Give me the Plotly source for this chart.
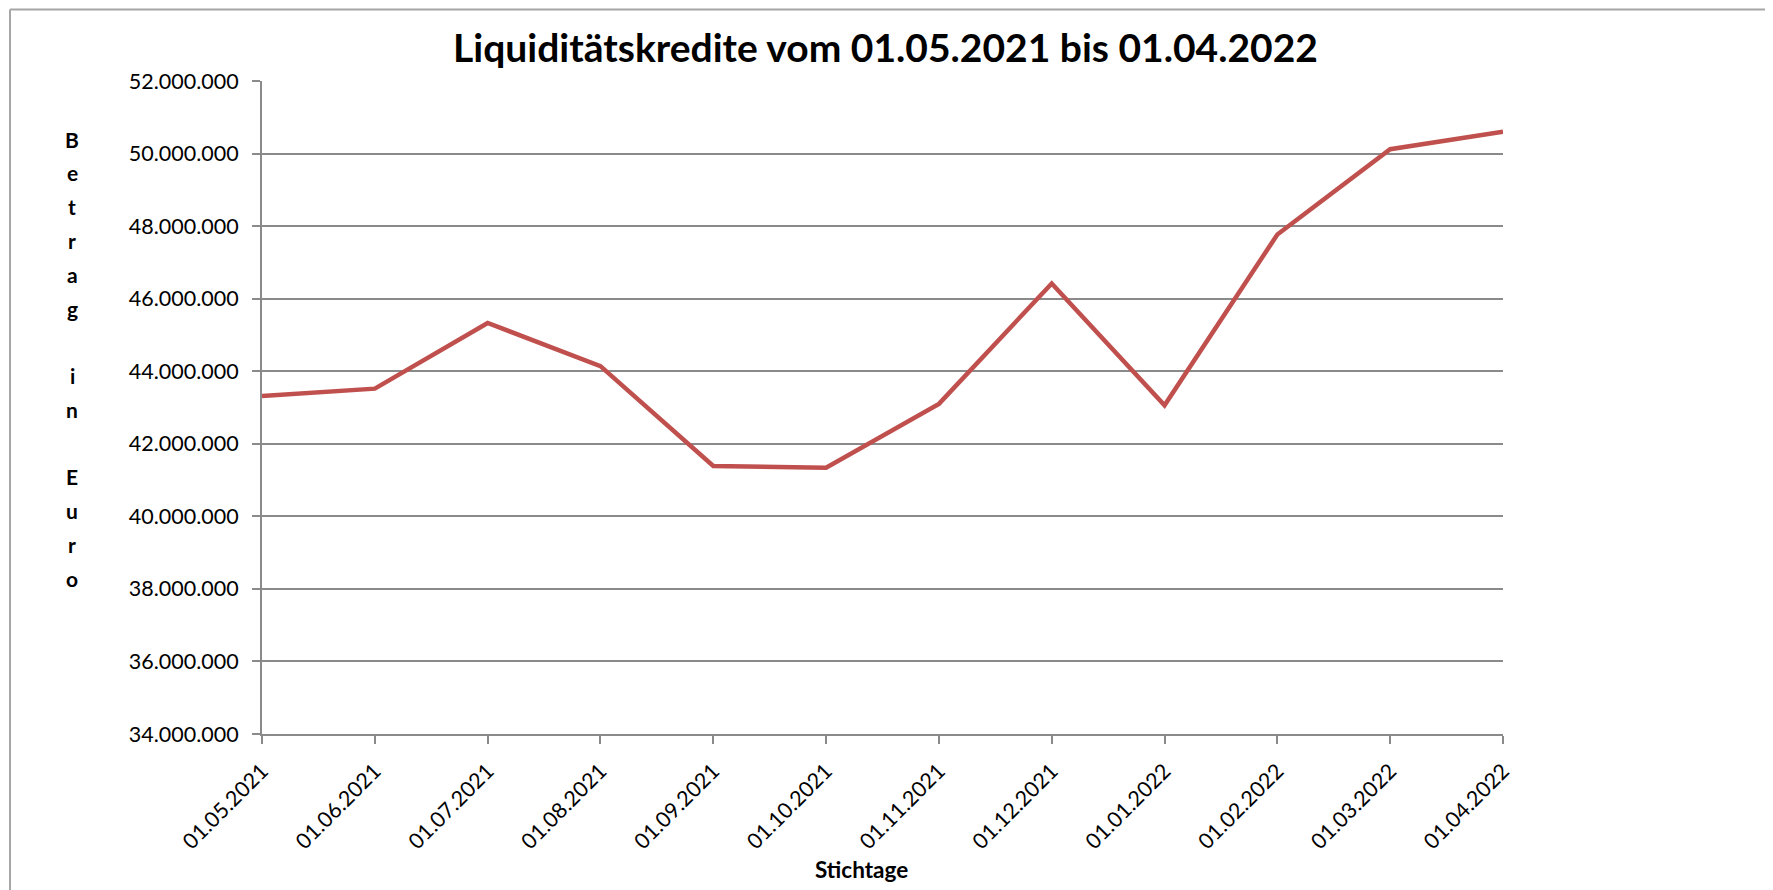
import plotly.graph_objects as go

# ---- data ----
stichtage = ["01.05.2021", "01.06.2021", "01.07.2021", "01.08.2021", "01.09.2021",
             "01.10.2021", "01.11.2021", "01.12.2021", "01.01.2022", "01.02.2022",
             "01.03.2022", "01.04.2022"]
betrag = [43320000, 43520000, 45330000, 44140000, 41390000, 41340000,
          43100000, 46420000, 43060000, 47770000, 50120000, 50600000]
y_ticks = [34000000, 36000000, 38000000, 40000000, 42000000, 44000000,
           46000000, 48000000, 50000000, 52000000]
title_text = "Liquiditätskredite vom 01.05.2021 bis 01.04.2022"
x_title = "Stichtage"
y_title = "Betrag in Euro"

# ---- layout geometry (screen pixels; page body adds an 8px offset) ----
OFF = 8
W, H = 1773, 890
L, R, T, B = 262 - OFF, 1503 - OFF, 81 - OFF, 734 - OFF
PW, PH = R - L, B - T

def px(x):
    return (x - OFF - L) / PW

def py(y):
    return (B - (y - OFF)) / PH

FONT = "Lato"
GRID = "#8a8a8a"
RED = "#C0504D"

fig = go.Figure()
fig.add_trace(go.Scatter(
    x=stichtage, y=betrag, mode="lines",
    line=dict(color=RED, width=4.5),
    showlegend=False, hoverinfo="x+y",
))

fig.update_layout(
    width=W, height=H,
    margin=dict(l=L, r=W - R, t=T, b=H - B, pad=0),
    paper_bgcolor="white", plot_bgcolor="white",
    separators=",.",
    font=dict(family=FONT, size=21.5, color="black"),
    showlegend=False,
    xaxis=dict(
        type="category", categoryorder="array", categoryarray=stichtage,
        range=[0, len(stichtage) - 1],
        showgrid=False, zeroline=False,
        showline=True, linecolor=GRID, linewidth=2,
        ticks="outside", ticklen=8, tickwidth=2, tickcolor=GRID,
        tickangle=-45, ticklabelstandoff=6,
        tickfont=dict(family=FONT, size=21.5, color="black"),
    ),
    xaxis2=dict(
        overlaying="x", anchor="y", side="bottom",
        range=[0, len(stichtage) - 1],
        tickvals=list(range(len(stichtage))),
        showticklabels=False, showgrid=False, zeroline=False, showline=False,
        ticks="inside", ticklen=8, tickwidth=2, tickcolor=GRID,
    ),
    yaxis=dict(
        range=[y_ticks[0], y_ticks[-1]],
        tickvals=y_ticks, tickformat=",d",
        showgrid=True, gridcolor=GRID, gridwidth=1.5,
        zeroline=False,
        showline=True, linecolor=GRID, linewidth=2,
        ticks="outside", ticklen=8, tickwidth=2, tickcolor=GRID,
        ticklabelstandoff=9,
        tickfont=dict(family=FONT, size=21.5, color="black"),
    ),
)

annotations = [
    dict(text="<b>" + title_text + "</b>", xref="paper", yref="paper",
         x=px(885), y=py(47), xanchor="center", yanchor="middle",
         showarrow=False, font=dict(family=FONT, size=39, color="black")),
    dict(text="<b>" + x_title + "</b>", xref="paper", yref="paper",
         x=px(861), y=py(869), xanchor="center", yanchor="middle",
         showarrow=False, font=dict(family=FONT, size=22.5, color="black")),
]
# vertical stacked y-axis title letters
y0, dy = 139, 33.8
for i, ch in enumerate(y_title):
    if ch == " ":
        continue
    annotations.append(dict(
        text="<b>" + ch + "</b>", xref="paper", yref="paper",
        x=px(72), y=py(y0 + i * dy), xanchor="center", yanchor="middle",
        showarrow=False, font=dict(family=FONT, size=21, color="black")))
fig.update_layout(annotations=annotations)

# chart-area border (top and left edges visible in the reference)
fig.add_shape(type="line", xref="paper", yref="paper",
              x0=px(10), y0=py(H + 20), x1=px(10), y1=py(9.5),
              line=dict(color="#a6a6a6", width=2))
fig.add_shape(type="line", xref="paper", yref="paper",
              x0=px(10), y0=py(9.5), x1=px(W + 20), y1=py(9.5),
              line=dict(color="#a6a6a6", width=2))

fig.write_html("out.html")
